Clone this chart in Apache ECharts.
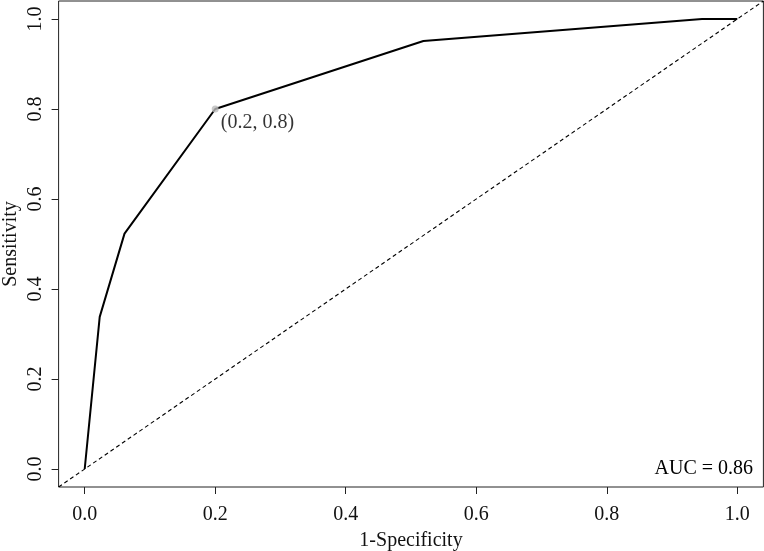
<!DOCTYPE html>
<html>
<head>
<meta charset="utf-8">
<script src="https://cdn.jsdelivr.net/npm/echarts@6/dist/echarts.min.js"></script>
<style>html,body{margin:0;padding:0;background:#fff}#c{width:764px;height:551px}</style>
</head>
<body>
<div id="c"></div>
<script>
// ROC curve points: [1-Specificity, Sensitivity]
const fpr = [0.0, 0.023, 0.061, 0.2, 0.519, 0.946, 1.0];
const tpr = [0.0, 0.338, 0.523, 0.8, 0.951, 1.0, 1.0];
const cutPoint = [0.2, 0.8];
const cutLabel = '(0.2, 0.8)';
const aucText = 'AUC = 0.86';
const tickValues = [0, 0.2, 0.4, 0.6, 0.8, 1.0];
const diagX = [-0.04, 1.04];
const diagY = [-0.04, 1.04];

const font = 'Liberation Serif';
const chart = echarts.init(document.getElementById('c'), null, {renderer: 'canvas'});
const fmt = v => v.toFixed(1);
chart.setOption({
  animation: false,
  grid: {left: 58.6, right: 0.6, top: 1, bottom: 64, show: true, containLabel: false, outerBoundsMode: 'none',
         borderColor: '#222', borderWidth: 1, backgroundColor: 'transparent'},
  xAxis: {
    type: 'value', min: -0.04, max: 1.04,
    name: '1-Specificity', nameLocation: 'middle', nameGap: 54, nameMoveOverlap: false,
    nameTextStyle: {fontFamily: font, fontSize: 20, color: '#111', verticalAlign: 'middle'},
    axisLine: {show: false, onZero: false},
    splitLine: {show: false},
    axisTick: {show: true, inside: false, length: 7, customValues: tickValues, lineStyle: {color: '#222'}},
    axisLabel: {customValues: tickValues, formatter: fmt, margin: 18, fontFamily: font, fontSize: 20, color: '#111'}
  },
  yAxis: {
    type: 'value', min: -0.04, max: 1.04,
    name: 'Sensitivity', nameLocation: 'middle', nameGap: 48, nameMoveOverlap: false,
    nameTextStyle: {fontFamily: font, fontSize: 20, color: '#111', verticalAlign: 'middle'},
    axisLine: {show: false, onZero: false},
    splitLine: {show: false},
    axisTick: {show: true, inside: false, length: 7, customValues: tickValues, lineStyle: {color: '#222'}},
    axisLabel: {customValues: tickValues, formatter: fmt, rotate: 90, margin: 13, fontFamily: font, fontSize: 20, color: '#111'}
  },
  series: [
    {
      type: 'line', data: diagX.map((x, i) => [x, diagY[i]]), showSymbol: false, silent: true, z: 1,
      lineStyle: {color: '#000', width: 1.1, type: [4, 3]}
    },
    {
      type: 'line', data: fpr.map((x, i) => [x, tpr[i]]), showSymbol: false, z: 2,
      lineStyle: {color: '#000', width: 2}
    },
    {
      type: 'scatter', data: [cutPoint], symbolSize: 7, z: 5,
      itemStyle: {color: '#bbbbbb'},
      label: {show: true, formatter: cutLabel, position: 'right', offset: [-3, 14], fontFamily: font, fontSize: 20, color: '#000'}
    }
  ],
  graphic: [
    {type: 'text', right: 11, bottom: 72, style: {text: aucText, fontFamily: font, fontSize: 20, fill: '#000'}}
  ]
});
</script>
</body>
</html>
